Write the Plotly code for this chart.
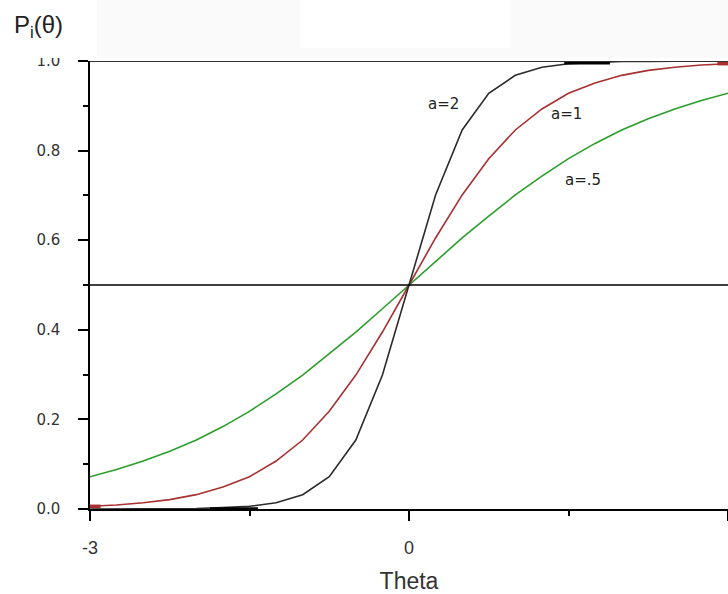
import plotly.graph_objects as go

# Ability values (theta)
theta = [-3.0, -2.75, -2.5, -2.25, -2.0, -1.75, -1.5, -1.25, -1.0, -0.75, -0.5, -0.25,
         0.0, 0.25, 0.5, 0.75, 1.0, 1.25, 1.5, 1.75, 2.0, 2.25, 2.5, 2.75, 3.0]

# P_i(theta) for each discrimination value
p_a2 = [0.000, 0.000, 0.000, 0.001, 0.001, 0.003, 0.006, 0.014, 0.032, 0.072, 0.154, 0.299,
        0.500, 0.701, 0.846, 0.928, 0.968, 0.986, 0.994, 0.997, 0.999, 0.999, 1.000, 1.000, 1.000]
p_a1 = [0.006, 0.009, 0.014, 0.021, 0.032, 0.049, 0.072, 0.107, 0.154, 0.218, 0.299, 0.395,
        0.500, 0.605, 0.701, 0.782, 0.846, 0.893, 0.928, 0.951, 0.968, 0.979, 0.986, 0.991, 0.994]
p_a05 = [0.072, 0.088, 0.107, 0.129, 0.154, 0.184, 0.218, 0.257, 0.299, 0.346, 0.395, 0.447,
         0.500, 0.553, 0.605, 0.654, 0.701, 0.743, 0.782, 0.816, 0.846, 0.871, 0.893, 0.912, 0.928]

# heavier rendered segments visible in the picture
thick_black_low_x = [-1.87, -1.42]
thick_black_low_y = [0.0, 0.0]
thick_black_high_x = [1.46, 1.89]
thick_black_high_y = [0.996, 0.996]
thick_red_low_x = [-3.0, -2.9]
thick_red_low_y = [0.006, 0.006]
thick_red_high_x = [2.9, 3.0]
thick_red_high_y = [0.994, 0.994]

curve_labels = ["a=2", "a=1", "a=.5"]
label_x = [0.329, 1.477, 1.636]
label_y = [0.904, 0.882, 0.734]

x_major = [-3, 0, 3]
x_minor = [-1.5, 1.5]

BLACK = "#2b2b2b"
RED = "#a83030"
GREEN = "#2a9e2a"
FONT = "Liberation Sans"
WIDE = "DejaVu Sans"
NARROW = "Liberation Sans Narrow, Liberation Sans"

PW, PH = 638.0, 448.0  # plot area size in px

fig = go.Figure()

fig.add_trace(go.Scatter(x=theta, y=p_a05, mode="lines", line=dict(color=GREEN, width=1.6), showlegend=False))
fig.add_trace(go.Scatter(x=theta, y=p_a1, mode="lines", line=dict(color=RED, width=1.6), showlegend=False))
fig.add_trace(go.Scatter(x=theta, y=p_a2, mode="lines", line=dict(color=BLACK, width=1.6), showlegend=False))

for xs, ys, c in [(thick_black_low_x, thick_black_low_y, "#000000"),
                  (thick_black_high_x, thick_black_high_y, "#000000"),
                  (thick_red_low_x, thick_red_low_y, RED),
                  (thick_red_high_x, thick_red_high_y, RED)]:
    fig.add_trace(go.Scatter(x=xs, y=ys, mode="lines", line=dict(color=c, width=3.5),
                             showlegend=False, cliponaxis=False))

# reference lines at P = 0.5 and P = 1.0
fig.add_shape(type="line", xref="x", yref="y", x0=-3.02, x1=3, y0=0.5, y1=0.5,
              line=dict(color="#000000", width=1.5), layer="above")
fig.add_shape(type="line", xref="x", yref="y", x0=-3, x1=3, y0=1.0, y1=1.0,
              line=dict(color="#333333", width=2), layer="above")

# top band of the page (covers upper half of the "1.0" label as in the reference)
band_y0 = 1.0 + 3 / PH
fig.add_shape(type="rect", xref="paper", yref="paper", x0=-0.2, x1=1.01,
              y0=band_y0, y1=1.2, fillcolor="#fafafa", line=dict(width=0), layer="above")
fig.add_shape(type="rect", xref="paper", yref="paper", x0=-0.2, x1=7 / PW,
              y0=band_y0, y1=1.2, fillcolor="#ffffff", line=dict(width=0), layer="above")
fig.add_shape(type="rect", xref="paper", yref="paper", x0=210 / PW, x1=420 / PW,
              y0=1.0 + 13 / PH, y1=1.2, fillcolor="#ffffff", line=dict(width=0), layer="above")

for t, xx, yy in zip(curve_labels, label_x, label_y):
    fig.add_annotation(x=xx, y=yy, xref="x", yref="y", text=t, showarrow=False,
                       font=dict(family=WIDE, size=15, color="#222222"))

fig.add_annotation(x=-78 / PW, y=1.0 + 34 / PH, xref="paper", yref="paper",
                   xanchor="left", yanchor="middle", text="P<sub>i</sub>(θ)", showarrow=False,
                   font=dict(family=NARROW, size=24, color="#222222"))

fig.update_layout(
    width=728, height=594,
    margin=dict(l=90, r=0, t=61, b=85, autoexpand=False),
    paper_bgcolor="white", plot_bgcolor="white",
    font=dict(family=FONT, color="#333333"),
    xaxis=dict(
        range=[-3, 3], showgrid=False, zeroline=False, automargin=False,
        showline=True, linecolor="#000000", linewidth=1.5,
        tickmode="array", tickvals=x_major, ticktext=["-3", "0", "3"],
        ticks="outside", ticklen=10, tickwidth=1.5, tickcolor="#000000",
        ticklabelstandoff=12,
        tickfont=dict(family=FONT, size=18, color="#333333"),
        minor=dict(tickmode="array", tickvals=x_minor, ticks="outside", ticklen=5,
                   tickwidth=1.5, tickcolor="#000000"),
        title=dict(text="Theta", font=dict(family=FONT, size=23, color="#333333"), standoff=26),
    ),
    yaxis=dict(
        range=[0, 1], showgrid=False, zeroline=False, automargin=False,
        showline=True, linecolor="#000000", linewidth=1.5,
        tickmode="linear", tick0=0, dtick=0.2, tickformat=".1f",
        ticks="outside", ticklen=10, tickwidth=1.5, tickcolor="#000000",
        ticklabelstandoff=15,
        tickfont=dict(family=WIDE, size=15, color="#333333"),
        minor=dict(tickmode="linear", tick0=0.1, dtick=0.2, ticks="outside", ticklen=5,
                   tickwidth=1.5, tickcolor="#000000"),
    ),
)

fig.write_html("out.html", config={"displayModeBar": False},
               post_script="document.body.style.margin='0px';document.body.style.overflow='hidden';")
